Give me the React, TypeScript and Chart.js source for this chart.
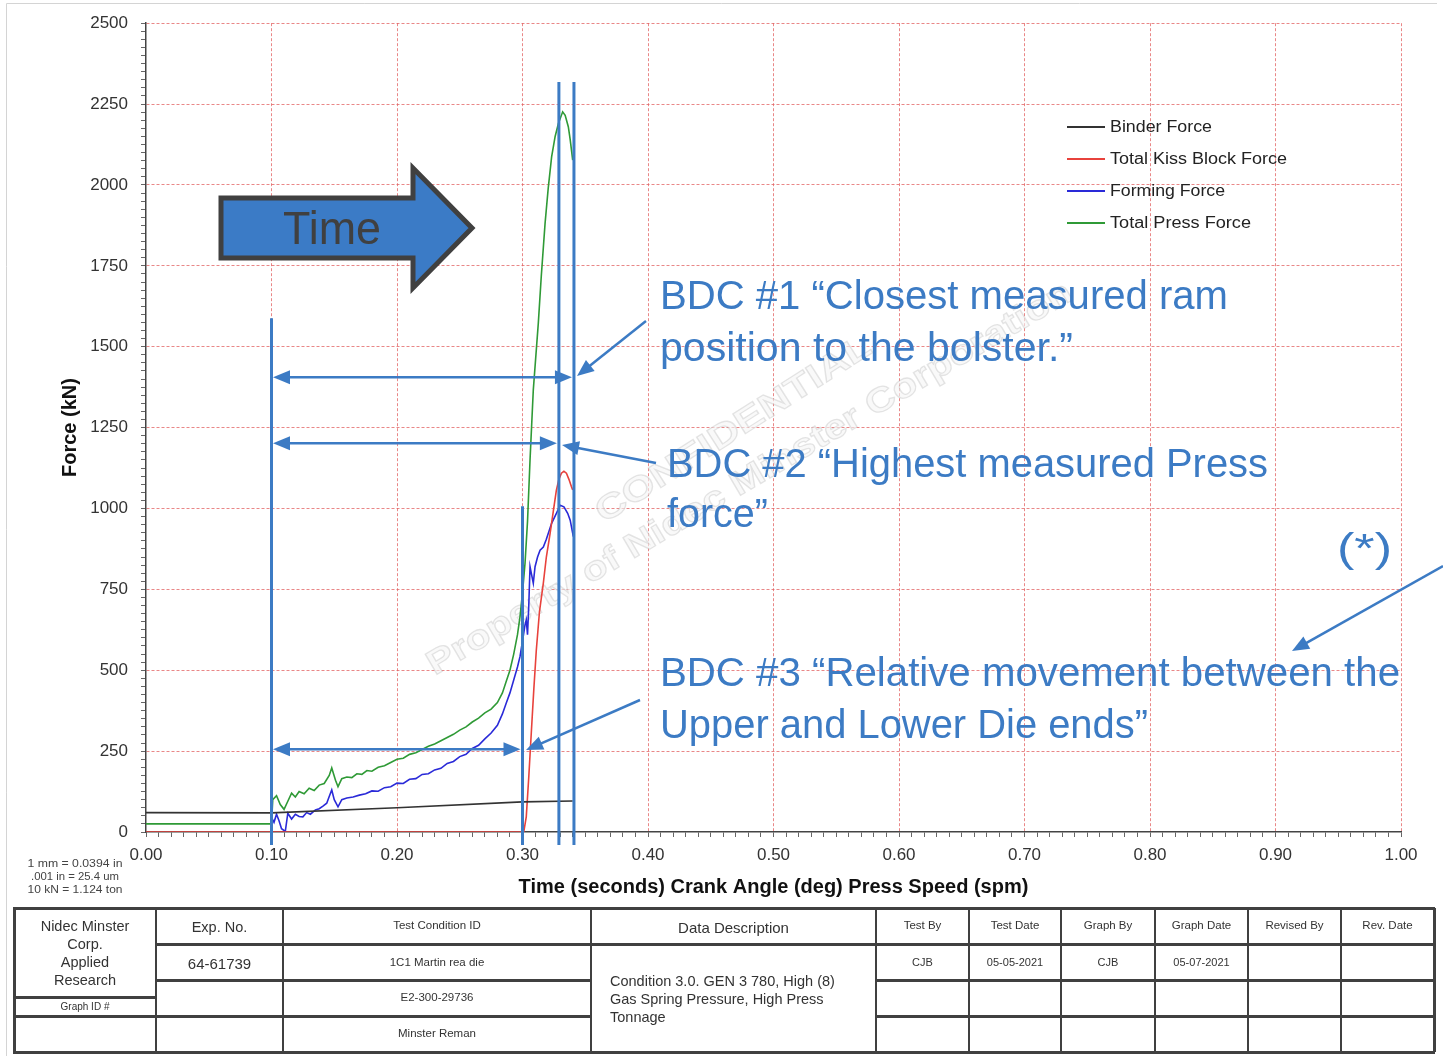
import React, { useEffect, useRef } from "react";
import { Chart, registerables } from "chart.js";

Chart.register(...registerables);

// ---------------- data ----------------
const seriesLabels = ["Binder Force", "Total Kiss Block Force", "Forming Force", "Total Press Force"];
const seriesColors = ["#333333", "#E8423C", "#2A2AD8", "#2F9A36"];

const binderTime = [0, 0.1, 0.2, 0.3, 0.34];
const binderForce = [60, 59, 75, 93, 96];

const kissTime = [0, 0.3, 0.301, 0.303, 0.305, 0.307, 0.309, 0.311, 0.3135, 0.3166,
  0.319, 0.322, 0.3245, 0.327, 0.329, 0.331, 0.333, 0.335, 0.337, 0.339, 0.34];
const kissForce = [0, 0, 0, 47, 170, 306, 440, 562, 680, 769,
  850, 923, 990, 1057, 1090, 1109, 1115, 1109, 1090, 1067, 1057];

const formTime = [0.100, 0.102, 0.104, 0.106, 0.108, 0.111, 0.113, 0.116, 0.119, 0.122,
  0.125, 0.128, 0.131, 0.135, 0.138, 0.141, 0.144, 0.146, 0.148, 0.150,
  0.153, 0.156, 0.160, 0.165, 0.170, 0.175, 0.180, 0.185, 0.190, 0.195,
  0.200, 0.205, 0.210, 0.215, 0.220, 0.225, 0.230, 0.235, 0.240, 0.245,
  0.250, 0.255, 0.260, 0.265, 0.270, 0.275, 0.280, 0.284, 0.287, 0.290,
  0.293, 0.296, 0.298, 0.300, 0.302, 0.303, 0.304, 0.305, 0.306, 0.307,
  0.3086, 0.310, 0.312, 0.314, 0.3166, 0.319, 0.3232, 0.327, 0.330, 0.333,
  0.336, 0.338, 0.3405];
const formForce = [45, 30, 55, 35, 10, 2, 58, 40, 55, 48,
  47, 60, 55, 68, 72, 80, 89, 110, 130, 100,
  78, 100, 105, 108, 114, 118, 127, 126, 137, 140,
  151, 150, 163, 165, 178, 180, 192, 197, 212, 218,
  233, 240, 258, 268, 288, 306, 330, 365, 398, 430,
  470, 510, 542, 590, 640, 655, 610, 700, 820, 800,
  769, 820, 850, 871, 881, 905, 954, 985, 1010, 1005,
  985, 964, 913];

const pressTime = [0, 0.100, 0.101, 0.104, 0.107, 0.110, 0.113, 0.116, 0.119, 0.122,
  0.126, 0.130, 0.134, 0.138, 0.142, 0.146, 0.148, 0.151, 0.153, 0.156,
  0.160, 0.164, 0.168, 0.172, 0.176, 0.180, 0.185, 0.190, 0.195, 0.200,
  0.205, 0.210, 0.215, 0.220, 0.225, 0.230, 0.235, 0.240, 0.245, 0.250,
  0.255, 0.260, 0.265, 0.270, 0.275, 0.280, 0.284, 0.287, 0.290, 0.293,
  0.296, 0.298, 0.300, 0.302, 0.304, 0.306, 0.3086, 0.3126, 0.315, 0.318,
  0.3205, 0.3232, 0.326, 0.3286, 0.332, 0.334, 0.3365, 0.338, 0.340];
const pressForce = [25, 25, 100, 112, 85, 70, 95, 120, 108, 125,
  118, 135, 128, 145, 150, 175, 198, 160, 140, 165,
  170, 168, 180, 178, 190, 188, 200, 205, 215, 225,
  228, 240, 245, 255, 265, 272, 282, 292, 302, 315,
  325, 340, 352, 368, 380, 400, 430, 465, 500, 550,
  610, 665, 740, 830, 960, 1150, 1366, 1573, 1720, 1882,
  1990, 2087, 2150, 2190, 2226, 2215, 2180, 2140, 2077];

// annotation anchors (data units)
const bdcLineTimes = [0.1, 0.3, 0.329, 0.341];
const bdcLineTops = [1588, 1007, 2318, 2318];
const spanLevels = [1406, 1202, 256];
const spanEnds = [0.341, 0.329, 0.3];

const annotationLines = [
  "BDC #1 \u201CClosest measured ram",
  "position to the bolster.\u201D",
  "BDC #2 \u201CHighest measured Press",
  "force\u201D",
  "BDC #3 \u201CRelative movement between the",
  "Upper and Lower Die ends\u201D",
  "(*)",
];
const conversionNotes = ["1 mm = 0.0394 in", ".001 in = 25.4 um", "10 kN = 1.124 ton"];

// ---------------- helpers ----------------
const W = 1443;
const H = 1056;
const BLUE = "#3C7BC4";
const GRID = "rgba(226,95,95,0.75)";
const SANS = 'Arial, "Liberation Sans", sans-serif';

function pts(t: number[], v: number[]) {
  return t.map((x, i) => ({ x, y: v[i] }));
}

function fitText(ctx: CanvasRenderingContext2D, text: string, x: number, y: number, font: string,
  targetW: number, color: string, align: CanvasTextAlign = "left") {
  ctx.save();
  ctx.font = font;
  const w = ctx.measureText(text).width;
  const s = targetW / w;
  ctx.translate(x, y);
  ctx.scale(s, 1);
  ctx.fillStyle = color;
  ctx.textBaseline = "middle";
  ctx.textAlign = align;
  ctx.fillText(text, 0, 0);
  ctx.restore();
}

function arrow(ctx: CanvasRenderingContext2D, x1: number, y1: number, x2: number, y2: number,
  both = false, len = 16, hw = 7) {
  const a = Math.atan2(y2 - y1, x2 - x1);
  const c = Math.cos(a), s = Math.sin(a);
  const sx = both ? x1 + len * c * 0.8 : x1;
  const sy = both ? y1 + len * s * 0.8 : y1;
  ctx.beginPath();
  ctx.moveTo(sx, sy);
  ctx.lineTo(x2 - len * c * 0.8, y2 - len * s * 0.8);
  ctx.stroke();
  const head = (tx: number, ty: number, dc: number, ds: number) => {
    ctx.beginPath();
    ctx.moveTo(tx, ty);
    ctx.lineTo(tx - len * dc + hw * ds, ty - len * ds - hw * dc);
    ctx.lineTo(tx - len * dc - hw * ds, ty - len * ds + hw * dc);
    ctx.closePath();
    ctx.fill();
  };
  head(x2, y2, c, s);
  if (both) head(x1, y1, -c, -s);
}

function watermark(ctx: CanvasRenderingContext2D, text: string, cx: number, cy: number,
  deg: number, targetW: number, size: number) {
  ctx.save();
  ctx.translate(cx, cy);
  ctx.rotate((-deg * Math.PI) / 180);
  ctx.font = `bold ${size}px ${SANS}`;
  const w = ctx.measureText(text).width;
  ctx.scale(targetW / w, 1);
  ctx.textAlign = "center";
  ctx.textBaseline = "middle";
  ctx.fillStyle = "rgba(245,245,245,0.6)";
  ctx.fillText(text, 0, 0);
  ctx.strokeStyle = "rgba(170,170,170,0.3)";
  ctx.lineWidth = 1.2;
  ctx.strokeText(text, 0, 0);
  ctx.restore();
}

const overlayPlugin = {
  id: "overlay",
  beforeDatasetsDraw(chart: any) {
    const ctx = chart.ctx as CanvasRenderingContext2D;
    watermark(ctx, "CONFIDENTIAL", 734, 430, 32.5, 320, 34);
    watermark(ctx, "Property of Nidec Minster Corporation", 750, 479, 30.5, 743, 34);
  },
  afterDraw(chart: any) {
    const ctx = chart.ctx as CanvasRenderingContext2D;
    const xs = chart.scales.x, ys = chart.scales.y;
    const X = (t: number) => xs.getPixelForValue(t);
    const Y = (v: number) => ys.getPixelForValue(v);
    const bottom = chart.chartArea.bottom + 13;

    // frame
    ctx.save();
    ctx.strokeStyle = "#d4d4d4";
    ctx.lineWidth = 1;
    ctx.beginPath();
    ctx.moveTo(6.5, H);
    ctx.lineTo(6.5, 3.5);
    ctx.lineTo(1437, 3.5);
    ctx.stroke();
    ctx.restore();

    // legend
    ctx.save();
    const legendY = [127, 159, 191, 223];
    const legendW = [102, 177, 115, 141];
    chart.data.datasets.forEach((ds: any, i: number) => {
      ctx.strokeStyle = ds.borderColor;
      ctx.lineWidth = 1.8;
      ctx.beginPath();
      ctx.moveTo(1067, legendY[i]);
      ctx.lineTo(1105, legendY[i]);
      ctx.stroke();
      fitText(ctx, ds.label, 1110, legendY[i] + 1, `16px ${SANS}`, legendW[i], "#222");
    });
    ctx.restore();

    // conversion notes
    const noteY = [864, 877, 890];
    const noteW = [95, 88, 95];
    conversionNotes.forEach((t, i) => fitText(ctx, t, 75, noteY[i], `10px ${SANS}`, noteW[i], "#444", "center"));

    // BDC vertical lines
    ctx.save();
    ctx.strokeStyle = BLUE;
    ctx.fillStyle = BLUE;
    ctx.lineWidth = 3;
    bdcLineTimes.forEach((t, i) => {
      ctx.beginPath();
      ctx.moveTo(X(t), Y(bdcLineTops[i]));
      ctx.lineTo(X(t), bottom);
      ctx.stroke();
    });
    // span arrows
    ctx.lineWidth = 2.5;
    spanLevels.forEach((v, i) => {
      arrow(ctx, X(bdcLineTimes[0]) + 1.5, Y(v), X(spanEnds[i]) - 2, Y(v), true, 17, 7);
    });
    // callout arrows
    arrow(ctx, 646, 321, 577, 376, false, 17, 7);
    arrow(ctx, 656, 463, 562, 445, false, 17, 7);
    arrow(ctx, 640, 700, 526, 750, false, 17, 7);
    arrow(ctx, 1443, 566, 1292, 651, false, 17, 7);
    ctx.restore();

    // annotation text
    const tx = [660, 660, 667, 667, 660, 660, 1337];
    const ty = [298, 350, 466, 516, 675, 727, 551];
    const tw = [568, 413, 601, 101, 740, 488, 55];
    annotationLines.forEach((t, i) => fitText(ctx, t, tx[i], ty[i], `41px ${SANS}`, tw[i], BLUE));

    // Time arrow
    ctx.save();
    ctx.beginPath();
    ctx.moveTo(221, 198);
    ctx.lineTo(413, 198);
    ctx.lineTo(413, 168);
    ctx.lineTo(472, 228);
    ctx.lineTo(413, 288);
    ctx.lineTo(413, 258);
    ctx.lineTo(221, 258);
    ctx.closePath();
    ctx.fillStyle = "#3B7BC6";
    ctx.fill();
    ctx.lineWidth = 5;
    ctx.lineJoin = "miter";
    ctx.strokeStyle = "#404040";
    ctx.stroke();
    ctx.restore();
    fitText(ctx, "Time", 332, 231, `46px ${SANS}`, 98, "#404040", "center");
  },
};

// ---------------- table ----------------
const TCOLOR = "#333";
function HL({ x1, x2, y, w = 3 }: { x1: number; x2: number; y: number; w?: number }) {
  return <div style={{ position: "absolute", left: x1, top: y - w / 2, width: x2 - x1, height: w, background: "#404040" }} />;
}
function VL({ x, y1, y2, w = 2 }: { x: number; y1: number; y2: number; w?: number }) {
  return <div style={{ position: "absolute", left: x - w / 2, top: y1, width: w, height: y2 - y1, background: "#404040" }} />;
}
function T({ x, y, size, text, left = false }: { x: number; y: number; size: number; text: string; left?: boolean }) {
  return (
    <div style={{
      position: "absolute", left: x, top: y, transform: left ? "translate(0,-50%)" : "translate(-50%,-50%)",
      whiteSpace: "nowrap", fontFamily: SANS, fontSize: size, color: TCOLOR, lineHeight: 1,
    }}>{text}</div>
  );
}

const tableCols = [14, 156, 283, 591, 876, 969, 1061, 1155, 1248, 1341, 1434];
const smallHeaders = ["Test By", "Test Date", "Graph By", "Graph Date", "Revised By", "Rev. Date"];
const smallValues = ["CJB", "05-05-2021", "CJB", "05-07-2021", "", ""];
const companyLines = ["Nidec Minster", "Corp.", "Applied", "Research"];
const conditionCells = ["Test Condition ID", "1C1 Martin rea die", "E2-300-29736", "Minster Reman"];
const descriptionLines = ["Condition 3.0. GEN 3 780, High (8)", "Gas Spring Pressure, High Press", "Tonnage"];

function InfoTable() {
  const top = 908, bot = 1052;
  const mid = (i: number) => (tableCols[i] + tableCols[i + 1]) / 2;
  return (
    <>
      <HL x1={13} x2={1435} y={top} />
      <HL x1={13} x2={1435} y={bot} />
      {tableCols.map((x, i) => <VL key={"v" + i} x={x} y1={top} y2={bot} w={i === 0 || i === tableCols.length - 1 ? 3 : 2} />)}
      <HL x1={156} x2={1434} y={944} />
      <HL x1={156} x2={591} y={980} />
      <HL x1={876} x2={1434} y={980} />
      <HL x1={14} x2={156} y={997} />
      <HL x1={14} x2={591} y={1016} />
      <HL x1={876} x2={1434} y={1016} />

      {companyLines.map((t, i) => <T key={"c" + i} x={mid(0)} y={926 + i * 18} size={14.5} text={t} />)}
      <T x={mid(0)} y={1007} size={10} text="Graph ID #" />
      <T x={mid(1)} y={927} size={14.5} text="Exp. No." />
      <T x={mid(1)} y={963} size={15} text="64-61739" />
      {conditionCells.map((t, i) => <T key={"k" + i} x={mid(2)} y={[926, 963, 998, 1034][i]} size={11.5} text={t} />)}
      <T x={mid(3)} y={927} size={15} text="Data Description" />
      {descriptionLines.map((t, i) => <T key={"d" + i} x={610} y={981 + i * 18} size={14.5} text={t} left />)}
      {smallHeaders.map((t, i) => <T key={"h" + i} x={mid(4 + i)} y={926} size={11.5} text={t} />)}
      {smallValues.map((t, i) => (t ? <T key={"s" + i} x={mid(4 + i)} y={962} size={11} text={t} /> : null))}
    </>
  );
}

// ---------------- chart ----------------
const isMajorX = (v: number) => Math.round(v * 100) % 10 === 0;
const isMajorY = (v: number) => Math.round(v) % 250 === 0;

export default function App() {
  const ref = useRef<HTMLCanvasElement>(null);
  useEffect(() => {
    const mk = (i: number, data: { x: number; y: number }[]) => ({
      label: seriesLabels[i],
      data,
      borderColor: seriesColors[i],
      backgroundColor: seriesColors[i],
      borderWidth: 1.6,
      pointRadius: 0,
      fill: false,
      tension: 0,
    });
    const chart = new Chart(ref.current as HTMLCanvasElement, {
      type: "line",
      data: {
        datasets: [
          mk(0, pts(binderTime, binderForce)),
          mk(1, pts(kissTime, kissForce)),
          mk(2, pts(formTime, formForce)),
          mk(3, pts(pressTime, pressForce)),
        ],
      },
      options: {
        responsive: false,
        animation: false,
        devicePixelRatio: 1,
        layout: { padding: { top: 23, left: 0, right: 42, bottom: 134 } },
        plugins: { legend: { display: false }, tooltip: { enabled: false } },
        scales: {
          x: {
            type: "linear",
            min: 0,
            max: 1,
            afterFit: (s: any) => { s.height = 90; },
            ticks: {
              stepSize: 0.01,
              autoSkip: false,
              maxRotation: 0,
              minRotation: 0,
              padding: 8,
              color: "#333",
              font: { family: SANS, size: 17 },
              callback: (v: any) => (isMajorX(Number(v)) ? Number(v).toFixed(2) : ""),
            },
            grid: {
              color: (c: any) => (c.tick && isMajorX(c.tick.value) && c.tick.value > 0 ? GRID : "transparent"),
              lineWidth: 1,
              tickColor: "#666",
              tickLength: 5,
              tickWidth: 1,
            },
            border: { display: true, color: "#444", width: 1.5, dash: [3, 2] },
            title: {
              display: true,
              text: "Time (seconds) Crank Angle (deg) Press Speed (spm)",
              color: "#111",
              font: { family: SANS, size: 20, weight: "bold" },
              padding: { top: 0, bottom: 23 },
            },
          },
          y: {
            type: "linear",
            min: 0,
            max: 2500,
            afterFit: (s: any) => { s.width = 146; },
            ticks: {
              stepSize: 25,
              autoSkip: false,
              padding: 13,
              color: "#333",
              font: { family: SANS, size: 17 },
              callback: (v: any) => (isMajorY(Number(v)) ? String(v) : ""),
            },
            grid: {
              color: (c: any) => (c.tick && isMajorY(c.tick.value) && c.tick.value > 0 ? GRID : "transparent"),
              lineWidth: 1,
              tickColor: "#666",
              tickLength: 5,
              tickWidth: 1,
            },
            border: { display: true, color: "#444", width: 1.5, dash: [3, 2] },
            title: {
              display: true,
              text: "Force (kN)",
              color: "#111",
              font: { family: SANS, size: 20, weight: "bold" },
              padding: { top: 58, bottom: 0 },
            },
          },
        },
      },
      plugins: [overlayPlugin],
    } as any);
    return () => chart.destroy();
  }, []);

  return (
    <div style={{ position: "absolute", left: 0, top: 0, width: W, height: H, background: "#fff", overflow: "hidden" }}>
      <canvas ref={ref} width={W} height={H} style={{ position: "absolute", left: 0, top: 0, width: W, height: H }} />
      <InfoTable />
    </div>
  );
}
